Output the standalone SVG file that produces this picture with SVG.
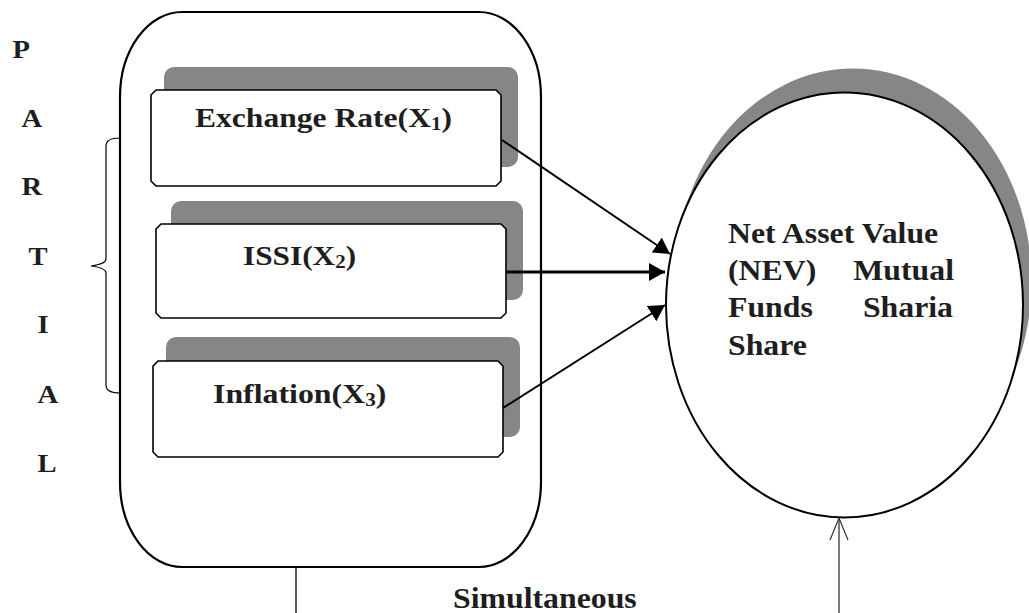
<svg xmlns="http://www.w3.org/2000/svg" width="1029" height="613" viewBox="0 0 1029 613">
<style>
.t{font-family:"Liberation Serif","Times New Roman",serif;font-weight:bold;fill:#1e1e1e}
.lbl{font-size:27px}
.el{font-size:30px}
.pl{font-size:26px}
.box{fill:#fff;stroke:#000;stroke-width:1.6}
.shd{fill:#868686}
.ln{stroke:#000;fill:none}
</style>
<defs>
<marker id="ah" markerUnits="userSpaceOnUse" markerWidth="18" markerHeight="20" refX="16" refY="9" orient="auto">
<path d="M0,0 L16,9 L0,18 z" fill="#000"/>
</marker>
<marker id="oh" markerUnits="userSpaceOnUse" markerWidth="26" markerHeight="22" refX="23" refY="10" orient="auto">
<path d="M1,1 L23,10 L1,19" fill="none" stroke="#333" stroke-width="1.2"/>
</marker>
</defs>
<rect width="1029" height="613" fill="#fff"/>

<g id="partial">
<text class="t pl" transform="translate(12.5,58) scale(1.1,1)">P</text>
<text class="t pl" transform="translate(21.5,127) scale(1.1,1)">A</text>
<text class="t pl" transform="translate(21.5,195) scale(1.1,1)">R</text>
<text class="t pl" transform="translate(28.5,265) scale(1.1,1)">T</text>
<text class="t pl" transform="translate(37.5,333) scale(1.1,1)">I</text>
<text class="t pl" transform="translate(37.5,403) scale(1.1,1)">A</text>
<text class="t pl" transform="translate(37.5,472) scale(1.1,1)">L</text>
<path class="ln" stroke-width="1.2" d="M120,138 Q106,138 106,146 L106,259 Q106,264 91,266 Q106,268 106,273 L106,385 Q106,393 120,393"/>
</g>

<g id="container">
<rect x="120" y="12" width="421" height="555" rx="62" ry="85" fill="none" stroke="#000" stroke-width="2.2"/>
</g>

<g id="x1">
<rect class="shd" x="164" y="67" width="354" height="100" rx="10"/>
<polygon class="box" points="156,90 496,90 501,95 501,181 496,186 156,186 151,181 151,95"/>
<text class="t lbl" transform="translate(195,127) scale(1.17,1)">Exchange Rate(X<tspan font-size="18" dy="3">1</tspan><tspan dy="-3">)</tspan></text>
</g>

<g id="x2">
<rect class="shd" x="171" y="201" width="352" height="99" rx="10"/>
<polygon class="box" points="161,224 501,224 506,229 506,313 501,318 161,318 156,313 156,229"/>
<text class="t lbl" transform="translate(243,265) scale(1.16,1)">ISSI(X<tspan font-size="18" dy="3">2</tspan><tspan dy="-3">)</tspan></text>
</g>

<g id="x3">
<rect class="shd" x="166" y="337" width="354" height="100" rx="10"/>
<polygon class="box" points="158,361 498,361 503,366 503,452 498,457 158,457 153,452 153,366"/>
<text class="t lbl" transform="translate(213,403) scale(1.18,1)">Inflation(X<tspan font-size="18" dy="3">3</tspan><tspan dy="-3">)</tspan></text>
</g>

<g id="y">
<ellipse cx="853" cy="281" rx="178.5" ry="212.5" fill="#868686"/>
<ellipse cx="844.5" cy="305" rx="178.5" ry="212.5" fill="#fff" stroke="#000" stroke-width="2"/>
<text class="t el" transform="translate(728,243) scale(1.06,1)">Net Asset Value</text>
<text class="t el" transform="translate(728,280) scale(1.06,1)">(NEV)</text>
<text class="t el" transform="translate(954,280) scale(1.06,1)" text-anchor="end">Mutual</text>
<text class="t el" transform="translate(728,317) scale(1.06,1)">Funds</text>
<text class="t el" transform="translate(953,317) scale(1.06,1)" text-anchor="end">Sharia</text>
<text class="t el" transform="translate(728,355) scale(1.06,1)">Share</text>
</g>

<g id="simultaneous">
<text class="t el" transform="translate(453,608) scale(1.06,1)">Simultaneous</text>
</g>

<g id="connectors">
<line class="ln" stroke-width="2" x1="502" y1="140" x2="670" y2="254" marker-end="url(#ah)"/>
<line class="ln" stroke-width="3" x1="506" y1="272" x2="665" y2="272" marker-end="url(#ah)"/>
<line class="ln" stroke-width="2" x1="503" y1="408" x2="665" y2="305" marker-end="url(#ah)"/>
<line class="ln" stroke-width="1.3" x1="296" y1="567" x2="296" y2="613"/>
<line stroke="#333" stroke-width="1.3" x1="839" y1="613" x2="839" y2="518" marker-end="url(#oh)"/>
</g>
</svg>
